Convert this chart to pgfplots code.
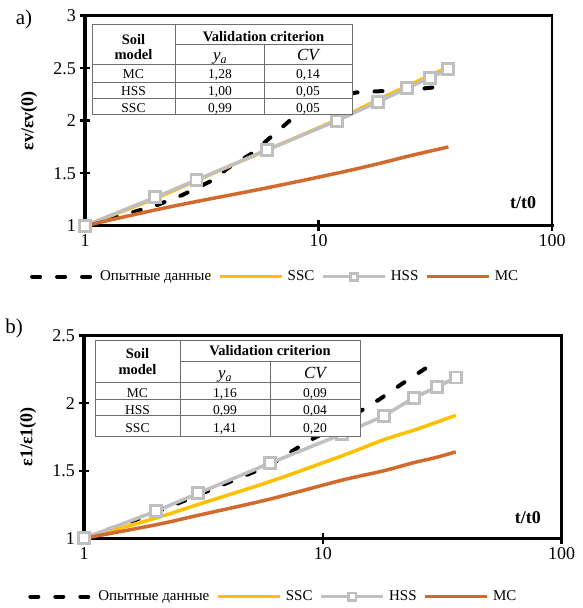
\documentclass[border=0pt]{standalone}
\usepackage{fontspec}
\setmainfont{Liberation Serif}
\usepackage{pgfplots}
\pgfplotsset{compat=1.18}
\definecolor{sscY}{HTML}{FFC000}
\definecolor{hssG}{HTML}{BFBFBF}
\definecolor{mcO}{HTML}{D2692D}
\definecolor{tabG}{HTML}{6E6E6E}
\newcommand\tickfont{\fontsize{18}{20}\selectfont}
\newcommand\legfont{\fontsize{15}{17}\selectfont}
\newcommand\hfont{\fontsize{14.5}{16}\selectfont\bfseries}
\newcommand\bfont{\fontsize{13.5}{15}\selectfont}
\newcommand\ifont{\fontsize{17}{19}\selectfont\itshape}
\pgfplotsset{
  legend image code/.code={\draw[mark repeat=2,mark phase=2,#1] plot coordinates {(0pt,0pt) (31pt,0pt) (62pt,0pt)};},
}
\pgfplotsset{
  expS/.style={black, line width=4pt, dash pattern=on 8pt off 17pt, line cap=round},
  sscS/.style={sscY, line width=3.5pt},
  hssS/.style={hssG, line width=3.5pt, mark=square*, mark size=5.5pt, mark options={fill=white, draw=hssG, line width=2.8pt, solid}, legend image post style={mark size=3.6pt}},
  mcS/.style={mcO, line width=3.5pt},
}
\begin{document}
\begin{tikzpicture}[x=1pt,y=1pt]
\useasboundingbox (0,0) rectangle (583,608);
% ---------------- panel a ----------------
\begin{axis}[
  scale only axis,
  xmode=log, xmin=1, xmax=100,
  xtick={1,10,100}, xticklabels={1,10,100},
  xminorticks=false, yminorticks=false,
  axis lines=left,
  axis line style={-, line width=3.5pt, line cap=rect},
  every tick/.style={black, line width=2.5pt},
  major tick length=11pt,
  tick align=center,
  tick label style={font=\tickfont},
  /pgf/number format/assume math mode=true,
  label style={font=\fontsize{18}{20}\selectfont\bfseries},
  clip=false,
  after end axis/.code={\draw[line width=2.5pt, line cap=rect] (rel axis cs:0,1) -- (rel axis cs:1,1) -- (rel axis cs:1,0);},
  legend columns=4,
  legend cell align=left,
  legend style={font=\legfont, draw=none, fill=none, inner sep=0pt,
    /tikz/every odd column/.append style={column sep=2pt},
    /tikz/every even column/.append style={column sep=5pt}},
  at={(85pt,382.3pt)}, anchor=south west,
  width=467pt, height=210pt,
  ymin=1, ymax=3, ytick={1,1.5,2,2.5,3},
  ylabel={εv/εv(0)},
  ylabel style={at={(axis description cs:-0.12,0.5)}, anchor=center},
  xlabel={t/t0},
  xlabel style={at={(axis description cs:0.938,0.108)}, anchor=center},
  legend style={at={(-0.118,-0.243)}, anchor=west},
]
\addplot[expS] coordinates {(1,1) (1.5,1.11) (2,1.19) (2.6,1.29) (3.5,1.43) (4.1,1.55) (5.2,1.69) (6.6,1.89) (7.8,2.03) (10,2.17) (12,2.23) (14.6,2.27) (18,2.28) (24,2.29) (32,2.32)};
\addlegendentry{Опытные данные}
\addplot[sscS, smooth] coordinates {(1,1) (2,1.26) (3,1.43) (6,1.72) (12,2.01) (18,2.20) (24,2.33) (30,2.43) (36,2.51)};
\addlegendentry{SSC}
\addplot[hssS] coordinates {(1,1) (2,1.27) (3,1.435) (6,1.72) (12,2.0) (18,2.18) (24,2.31) (30,2.41) (36,2.49)};
\addlegendentry{HSS}
\addplot[mcS, smooth] coordinates {(1,1) (2,1.15) (3,1.23) (6,1.36) (12,1.50) (18,1.59) (24,1.66) (30,1.71) (36,1.75)};
\addlegendentry{MC}
\end{axis}
% ---------------- panel b ----------------
\begin{axis}[
  scale only axis,
  xmode=log, xmin=1, xmax=100,
  xtick={1,10,100}, xticklabels={1,10,100},
  xminorticks=false, yminorticks=false,
  axis lines=left,
  axis line style={-, line width=3.5pt, line cap=rect},
  every tick/.style={black, line width=2.5pt},
  major tick length=11pt,
  tick align=center,
  tick label style={font=\tickfont},
  /pgf/number format/assume math mode=true,
  label style={font=\fontsize{18}{20}\selectfont\bfseries},
  clip=false,
  after end axis/.code={\draw[line width=2.5pt, line cap=rect] (rel axis cs:0,1) -- (rel axis cs:1,1) -- (rel axis cs:1,0);},
  legend columns=4,
  legend cell align=left,
  legend style={font=\legfont, draw=none, fill=none, inner sep=0pt,
    /tikz/every odd column/.append style={column sep=2pt},
    /tikz/every even column/.append style={column sep=5pt}},
  at={(84pt,69.7pt)}, anchor=south west,
  width=477.7pt, height=202.6pt,
  ymin=1, ymax=2.5, ytick={1,1.5,2,2.5},
  ylabel={ε1/ε1(0)},
  ylabel style={at={(axis description cs:-0.117,0.5)}, anchor=center},
  xlabel={t/t0},
  xlabel style={at={(axis description cs:0.929,0.10)}, anchor=center},
  legend style={at={(-0.117,-0.288)}, anchor=west},
]
\addplot[expS] coordinates {(1,1) (2,1.19) (3,1.32) (6,1.54) (8.5,1.71) (12,1.85) (14.3,1.94) (17.3,2.03) (21.7,2.15) (27,2.26) (29,2.29)};
\addlegendentry{Опытные данные}
\addplot[sscS, smooth] coordinates {(1,1) (2,1.15) (3,1.25) (6,1.42) (12,1.61) (18,1.73) (24,1.80) (30,1.86) (36,1.91)};
\addlegendentry{SSC}
\addplot[hssS] coordinates {(1,1) (2,1.20) (3,1.333) (6,1.556) (12,1.77) (18,1.906) (24,2.04) (30,2.12) (36,2.19)};
\addlegendentry{HSS}
\addplot[mcS, smooth] coordinates {(1,1) (2,1.10) (3,1.17) (6,1.29) (12,1.43) (18,1.50) (24,1.56) (30,1.60) (36,1.64)};
\addlegendentry{MC}
\end{axis}
% ---------------- panel labels ----------------
\node[font=\fontsize{21}{23}\selectfont] at (24,608-19) {a)};
\node[font=\fontsize{21}{23}\selectfont] at (14,608-328) {b)};
% ---------------- table a ----------------
\begin{scope}[tabG, line width=1pt]
\fill[white] (92,608-25) rectangle (352,608-115);
\draw (92,608-25) rectangle (352,608-115);
\draw (175,608-45) -- (352,608-45);
\draw (92,608-65) -- (352,608-65);
\draw (92,608-82.3) -- (352,608-82.3);
\draw (92,608-99) -- (352,608-99);
\draw (175,608-25) -- (175,608-115);
\draw (264.5,608-45) -- (264.5,608-115);
\end{scope}
\begin{scope}[every node/.style={black, anchor=base, inner sep=0pt}]
\node[font=\hfont] at (133.5,608-44.5) {Soil};
\node[font=\hfont] at (133.5,608-59.5) {model};
\node[font=\hfont] at (263.5,608-41.5) {Validation criterion};
\node[font=\ifont] at (220,608-61) {y\textsubscript{a}};
\node[font=\ifont] at (308,608-61) {CV};
\node[font=\bfont] at (133.5,608-79) {MC};
\node[font=\bfont] at (220,608-79) {1,28};
\node[font=\bfont] at (308,608-79) {0,14};
\node[font=\bfont] at (133.5,608-96) {HSS};
\node[font=\bfont] at (220,608-96) {1,00};
\node[font=\bfont] at (308,608-96) {0,05};
\node[font=\bfont] at (133.5,608-112.3) {SSC};
\node[font=\bfont] at (220,608-112.3) {0,99};
\node[font=\bfont] at (308,608-112.3) {0,05};
\end{scope}
% ---------------- table b ----------------
\begin{scope}[tabG, line width=1pt]
\fill[white] (95,608-340.7) rectangle (360,608-436.7);
\draw (95,608-340.7) rectangle (360,608-436.7);
\draw (180,608-361.7) -- (360,608-361.7);
\draw (95,608-382.7) -- (360,608-382.7);
\draw (95,608-399.3) -- (360,608-399.3);
\draw (95,608-416) -- (360,608-416);
\draw (180,608-340.7) -- (180,608-436.7);
\draw (270,608-361.7) -- (270,608-436.7);
\end{scope}
\begin{scope}[every node/.style={black, anchor=base, inner sep=0pt}]
\node[font=\hfont] at (137.5,608-359) {Soil};
\node[font=\hfont] at (137.5,608-375) {model};
\node[font=\hfont] at (270,608-355.7) {Validation criterion};
\node[font=\ifont] at (225,608-379) {y\textsubscript{a}};
\node[font=\ifont] at (315,608-378.3) {CV};
\node[font=\bfont] at (137.5,608-397.7) {MC};
\node[font=\bfont] at (225,608-397.7) {1,16};
\node[font=\bfont] at (315,608-397.7) {0,09};
\node[font=\bfont] at (137.5,608-414.5) {HSS};
\node[font=\bfont] at (225,608-414.5) {0,99};
\node[font=\bfont] at (315,608-414.5) {0,04};
\node[font=\bfont] at (137.5,608-432.5) {SSC};
\node[font=\bfont] at (225,608-432.5) {1,41};
\node[font=\bfont] at (315,608-432.5) {0,20};
\end{scope}
\end{tikzpicture}
\end{document}
